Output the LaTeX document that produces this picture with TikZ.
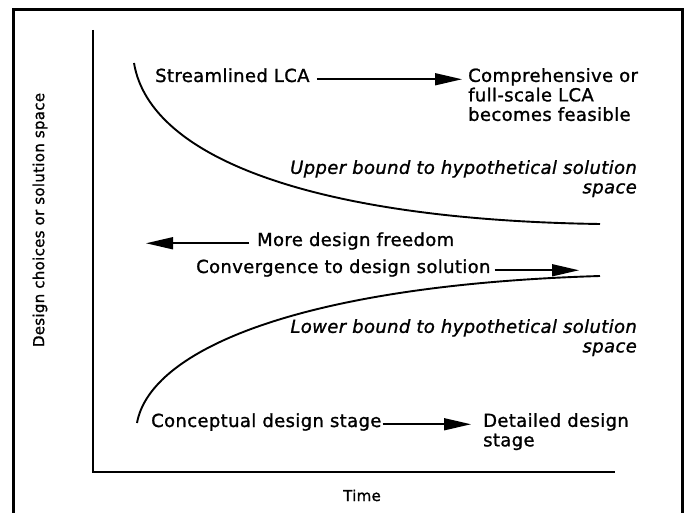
\documentclass[tikz,border=0pt]{standalone}
\usepackage{fontspec}
\setmainfont{DejaVu Sans}[LetterSpace=2, FakeBold=1.2]
\usetikzlibrary{arrows.meta}
\begin{document}
\begin{tikzpicture}[x=1pt,y=-1pt,
  lbl/.style={inner sep=0pt, font=\fontsize{18}{19.5}\selectfont},
  bound/.style={inner sep=0pt, font=\fontsize{18}{19.5}\selectfont\itshape, align=right},
  axlbl/.style={inner sep=0pt, font=\fontsize{15}{18}\selectfont},
  curve/.style={line width=1.9pt},
  flow/.style={line width=1.6pt, -{Triangle[length=27pt,width=12pt]}},
  axis/.style={line width=2.4pt},
  frame/.style={line width=3pt}
]
\useasboundingbox (0,0) rectangle (686,513);

% open frame (no bottom edge)
\draw[frame] (13,513) -- (13,10) -- (682,10) -- (682,513);

% axes
\coordinate (ytop) at (93,30);
\coordinate (origin) at (93,472);
\coordinate (xend) at (615,472);
\draw[axis] (ytop) -- (origin) -- (xend);

% bounds of the solution space
\draw[curve] (134,63) .. controls (150,160) and (320,220) .. (600,224);
\draw[curve] (137,423) .. controls (150,350) and (300,285) .. (600,276);

% top row
\node[lbl, anchor=base west] (slca) at (155,82) {Streamlined LCA};
\node[lbl, anchor=north west, align=left] (full) at (468,68)
  {Comprehensive or\\full-scale LCA\\becomes feasible};
\draw[flow, shorten <=7pt, shorten >=6pt] (slca.mid east) -- (slca.mid east -| full.west);

\node[bound, anchor=north east] (ub) at (637,160)
  {Upper bound to hypothetical solution\\space};

% middle arrows
\node[lbl, anchor=base west] (free) at (257,246) {More design freedom};
\coordinate (freetip) at (146,246);
\draw[flow, shorten <=8pt] (free.mid west) -- (free.mid west -| freetip);

\node[lbl, anchor=base west] (conv) at (196,273) {Convergence to design solution};
\coordinate (convtip) at (579,273);
\draw[flow, shorten <=4pt] (conv.mid east) -- (conv.mid east -| convtip);

\node[bound, anchor=north east] (lb) at (637,319)
  {Lower bound to hypothetical solution\\space};

% bottom row
\node[lbl, anchor=base west] (concept) at (151,427) {Conceptual design stage};
\node[lbl, anchor=north west, align=left] (detail) at (483,413)
  {Detailed design\\stage};
\draw[flow, shorten <=1pt, shorten >=12pt] (concept.mid east) -- (concept.mid east -| detail.west);

% axis labels
\node[axlbl, anchor=base] (time) at (362,501) {Time};
\node[axlbl, rotate=90] (ylab) at (40,220) {Design choices or solution space};
\end{tikzpicture}
\end{document}
